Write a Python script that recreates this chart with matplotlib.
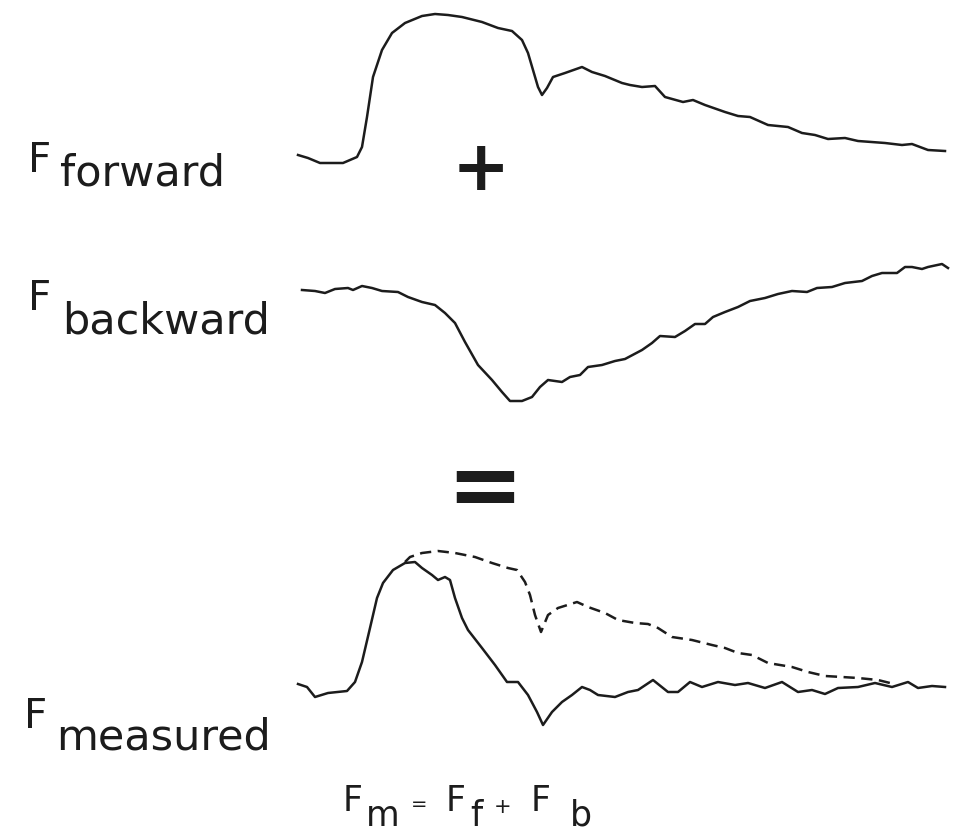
import matplotlib
matplotlib.use("Agg")
import matplotlib.pyplot as plt

# ---- data (x = time position, y = trace level, pixel units) ----
fwd_x = [298, 308, 320, 343, 357, 362, 367, 373, 382, 392, 405, 422, 435, 448, 462, 482, 498, 512,
         522, 528, 533, 538, 542, 547, 553, 565, 582, 592, 605, 622, 630, 642, 655, 665, 683, 693,
         705, 725, 738, 750, 768, 788, 802, 815, 828, 845, 858, 885, 902, 912, 928, 945]
fwd_y = [155, 158, 163, 163, 157, 147, 117, 77, 50, 33, 23, 16, 14, 15, 17, 22, 28, 31,
         40, 53, 70, 87, 95, 88, 77, 73, 67, 72, 76, 83, 85, 87, 86, 97, 102, 100,
         105, 112, 116, 117, 125, 127, 133, 135, 139, 138, 141, 143, 145, 144, 150, 151]

bwd_x = [302, 315, 325, 335, 348, 353, 362, 372, 382, 398, 408, 422, 435, 445, 455, 465, 478, 492,
         502, 510, 522, 532, 540, 548, 562, 570, 580, 588, 602, 615, 625, 642, 652, 660, 675, 685,
         695, 705, 713, 725, 738, 750, 765, 778, 792, 807, 817, 832, 845, 862, 872, 882, 897, 905,
         912, 922, 928, 942, 948]
bwd_y = [290, 291, 293, 289, 288, 290, 286, 288, 291, 292, 297, 302, 305, 313, 323, 342, 365, 380,
         392, 401, 401, 397, 387, 380, 382, 377, 375, 367, 365, 361, 359, 350, 343, 336, 337, 331,
         324, 324, 317, 312, 307, 301, 298, 294, 291, 292, 288, 287, 283, 281, 276, 273, 273, 267,
         267, 269, 267, 264, 268]

meas_x = [298, 307, 315, 328, 347, 355, 362, 370, 377, 383, 393, 405, 415, 422, 432, 438, 445, 450,
          455, 462, 468, 482, 495, 507, 518, 528, 537, 543, 552, 562, 572, 582, 590, 598, 615, 628,
          638, 653, 668, 678, 690, 702, 718, 735, 748, 765, 782, 798, 812, 825, 838, 858, 875,
          892, 908, 918, 932, 945]
meas_y = [684, 687, 697, 693, 691, 682, 662, 628, 598, 583, 570, 563, 562, 568, 575, 580, 577, 580,
          598, 618, 630, 648, 665, 682, 682, 695, 712, 725, 712, 702, 695, 687, 690, 695, 697, 692,
          690, 680, 692, 692, 682, 687, 682, 685, 683, 688, 682, 692, 690, 694, 688, 687, 683,
          687, 682, 688, 686, 687]

sum_x = [405, 410, 422, 438, 455, 475, 492, 508, 517, 525, 530, 535, 541, 548, 558, 577, 588, 605,
         618, 635, 648, 658, 672, 692, 712, 725, 738, 752, 768, 792, 808, 825, 842, 858, 878, 890]
sum_y = [562, 557, 553, 551, 553, 557, 563, 568, 570, 582, 595, 615, 632, 615, 608, 602, 607, 613,
         620, 623, 624, 628, 637, 640, 645, 648, 653, 655, 663, 667, 672, 676, 677, 678, 680, 683]

labels = ["forward", "backward", "measured"]

# ---- figure ----
W, H = 962, 835
fig = plt.figure(figsize=(W / 100, H / 100), dpi=100)
ax = fig.add_axes([0, 0, 1, 1])
ax.set_xlim(0, W)
ax.set_ylim(H, 0)
ax.axis("off")

ink = "#1c1c1c"
lw = 1.8
ax.plot(fwd_x, fwd_y, color=ink, lw=lw, solid_joinstyle="round")
ax.plot(bwd_x, bwd_y, color=ink, lw=lw, solid_joinstyle="round")
ax.plot(meas_x, meas_y, color=ink, lw=lw, solid_joinstyle="round")
ax.plot(sum_x, sum_y, color=ink, lw=lw, dashes=(4.5, 2.6))

fam = "DejaVu Sans"
# labels: F + lowered subscript word
label_pos = [(28, 172, 60, 185), (28, 310, 62, 334), (24, 728, 56, 750)]
for name, (fx, fy, sx, sy) in zip(labels, label_pos):
    ax.text(fx, fy, "F", fontsize=29, family=fam, color=ink, ha="left", va="baseline")
    ax.text(sx, sy, name, fontsize=31, family=fam, color=ink, ha="left", va="baseline")

# operators between panels
ax.text(481, 170, "+", fontsize=50, family=fam, weight="bold", color=ink, ha="center", va="center")
ax.text(485, 490, "=", fontsize=66, family=fam, weight="bold", color=ink, ha="center", va="center")

# formula  F_m = F_f + F_b
fs = 25
ax.text(343, 811, "F", fontsize=fs, family=fam, color=ink, ha="left", va="baseline")
ax.text(366, 826, "m", fontsize=fs, family=fam, color=ink, ha="left", va="baseline")
ax.text(419, 810, "=", fontsize=14, family=fam, color=ink, ha="center", va="baseline")
ax.text(446, 811, "F", fontsize=fs, family=fam, color=ink, ha="left", va="baseline")
ax.text(470, 826, "f", fontsize=fs, family=fam, color=ink, ha="left", va="baseline")
ax.text(503, 813, "+", fontsize=15, family=fam, color=ink, ha="center", va="baseline")
ax.text(531, 811, "F", fontsize=fs, family=fam, color=ink, ha="left", va="baseline")
ax.text(570, 826, "b", fontsize=fs, family=fam, color=ink, ha="left", va="baseline")

fig.savefig("out.png", dpi=100)
